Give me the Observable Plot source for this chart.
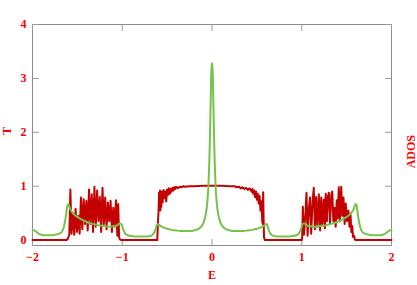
<!DOCTYPE html>
<html>
<head>
<meta charset="utf-8">
<script src="https://cdn.jsdelivr.net/npm/d3@7"></script>
<script src="https://cdn.jsdelivr.net/npm/@observablehq/plot@0.6"></script>
<style>
  html, body { margin: 0; padding: 0; background: #fff; }
</style>
</head>
<body>
<div id="chart"></div>
<script>
// Transmission T(E) (dark red)
const redE = [
  -2, -1.62, -1.605, -1.59, -1.578, -1.565, -1.55, -1.535, -1.52, -1.505, -1.49, -1.475, -1.46,
  -1.445, -1.43, -1.415, -1.40, -1.385, -1.37, -1.355, -1.34, -1.325, -1.31, -1.295, -1.28,
  -1.265, -1.25, -1.235, -1.22, -1.205, -1.19, -1.175, -1.16, -1.145, -1.13, -1.115, -1.10,
  -1.085, -1.07, -1.055, -1.045, -1.035, -1.025, -1.01,
  -0.61, -0.60, -0.595, -0.59, -0.585, -0.58, -0.575, -0.57, -0.565, -0.56, -0.55, -0.54, -0.53,
  -0.52, -0.51, -0.50, -0.49, -0.48, -0.47, -0.46, -0.45, -0.44, -0.43, -0.42, -0.41, -0.40,
  -0.38, -0.36, -0.34, -0.32, -0.30, -0.25, -0.20, -0.10, 0, 0.10, 0.20, 0.25, 0.28, 0.30, 0.32,
  0.34, 0.36, 0.38, 0.40, 0.42, 0.44, 0.45, 0.46, 0.47, 0.48, 0.49, 0.50, 0.51, 0.52, 0.53, 0.54,
  0.55, 0.56, 0.565, 0.57, 0.575, 0.58, 0.59,
  1.00, 1.005, 1.012, 1.025, 1.04, 1.053, 1.065, 1.08, 1.092, 1.105, 1.12, 1.134, 1.147, 1.16,
  1.175, 1.19, 1.205, 1.217, 1.23, 1.245, 1.258, 1.267, 1.28, 1.29, 1.302, 1.315, 1.33, 1.34,
  1.352, 1.365, 1.378, 1.39, 1.40, 1.413, 1.425, 1.44, 1.452, 1.465, 1.478, 1.49, 1.505, 1.52,
  1.532, 1.543, 1.553, 1.562, 1.572, 1.582, 1.592, 1.60, 2
];
const redT = [
  0, 0, 0.03, 0.10, 0.94, 0.12, 0.50, 0.10, 0.58, 0.15, 0.45, 0.12, 0.79,
  0.20, 0.76, 0.30, 0.73, 0.18, 0.94, 0.30, 0.85, 0.15, 0.99, 0.25, 0.92,
  0.35, 0.80, 0.15, 0.97, 0.30, 0.79, 0.20, 0.70, 0.35, 0.73, 0.15, 0.60,
  0.25, 0.74, 0.08, 0.67, 0.05, 0.01, 0,
  0, 0.40, 0.55, 0.88, 0.60, 0.92, 0.55, 0.85, 0.62, 0.90, 0.70, 0.93, 0.78,
  0.90, 0.72, 0.94, 0.84, 0.96, 0.86, 0.95, 0.90, 0.97, 0.92, 0.98, 0.95, 0.99,
  0.96, 0.99, 0.98, 1.0, 0.99, 1.0, 1.0, 1.01, 1.01, 1.01, 1.0, 1.0, 0.98, 0.99, 0.96,
  0.98, 0.95, 0.97, 0.93, 0.96, 0.90, 0.95, 0.86, 0.92, 0.80, 0.90, 0.75, 0.86, 0.68, 0.82, 0.55,
  0.72, 0.35, 0.30, 0.89, 0.40, 0.05, 0,
  0, 0.05, 0.62, 0.10, 0.45, 0.88, 0.08, 0.60, 0.79, 0.12, 0.70, 0.97, 0.20, 0.80,
  0.25, 0.85, 0.18, 0.79, 0.30, 0.75, 0.22, 0.86, 0.35, 0.80, 0.88, 0.30, 0.85, 0.90,
  0.35, 0.60, 0.25, 0.74, 0.40, 0.98, 0.35, 0.99, 0.45, 0.79, 0.30, 0.68, 0.35, 0.55,
  0.25, 0.49, 0.15, 0.26, 0.06, 0.08, 0.01, 0, 0
];

// ADOS(E) (light green)
const greenE = [
  -2, -1.97, -1.94, -1.9, -1.85, -1.8, -1.75, -1.7, -1.67, -1.65, -1.63, -1.61, -1.60, -1.58,
  -1.55, -1.5, -1.45, -1.4, -1.35, -1.3, -1.25, -1.2, -1.15, -1.1, -1.06, -1.03, -1.01, -0.99,
  -0.97, -0.94, -0.9, -0.85, -0.8, -0.75, -0.7, -0.67, -0.64, -0.62, -0.61, -0.58, -0.55, -0.5,
  -0.45, -0.4, -0.35, -0.3, -0.25, -0.2, -0.16, -0.12, -0.1, -0.08, -0.06, -0.05, -0.04, -0.03,
  -0.025, -0.02, -0.015, -0.01, -0.005, 0,
  0.005, 0.01, 0.015, 0.02, 0.025, 0.03, 0.04, 0.05, 0.06, 0.08, 0.1, 0.12, 0.16, 0.2, 0.25,
  0.3, 0.35, 0.4, 0.45, 0.5, 0.55, 0.58, 0.61, 0.62, 0.64, 0.67, 0.7, 0.75, 0.8, 0.85, 0.9,
  0.94, 0.97, 0.99, 1.01, 1.03, 1.06, 1.1, 1.15, 1.2, 1.25, 1.3, 1.35, 1.4, 1.45, 1.5, 1.55,
  1.58, 1.60, 1.61, 1.63, 1.65, 1.67, 1.7, 1.75, 1.8, 1.85, 1.9, 1.94, 1.97, 2
];
const greenA = [
  0.19, 0.17, 0.13, 0.10, 0.09, 0.09, 0.10, 0.12, 0.16, 0.25, 0.42, 0.65, 0.67, 0.58,
  0.50, 0.43, 0.38, 0.34, 0.31, 0.29, 0.27, 0.26, 0.25, 0.255, 0.27, 0.31, 0.30, 0.20,
  0.13, 0.09, 0.075, 0.068, 0.065, 0.065, 0.07, 0.09, 0.15, 0.25, 0.30, 0.27, 0.24, 0.21,
  0.19, 0.18, 0.17, 0.17, 0.17, 0.18, 0.20, 0.25, 0.30, 0.40, 0.58, 0.75, 1.0, 1.45,
  1.75, 2.15, 2.55, 2.95, 3.2, 3.28,
  3.2, 2.95, 2.55, 2.15, 1.75, 1.45, 1.0, 0.75, 0.58, 0.40, 0.30, 0.25, 0.20, 0.18, 0.17,
  0.17, 0.17, 0.18, 0.19, 0.21, 0.24, 0.27, 0.30, 0.25, 0.15, 0.09, 0.07, 0.065, 0.065, 0.068, 0.075,
  0.09, 0.13, 0.20, 0.30, 0.31, 0.27, 0.255, 0.25, 0.26, 0.27, 0.29, 0.31, 0.34, 0.38, 0.43, 0.50,
  0.58, 0.67, 0.65, 0.42, 0.25, 0.16, 0.12, 0.10, 0.09, 0.09, 0.10, 0.13, 0.17, 0.19
];

const xTicks = [-2, -1, 0, 1, 2];
const yTicks = [0, 1, 2, 3, 4];
const xLabel = "E";
const yLabelLeft = "T";
const yLabelRight = "ADOS";

const redData = redE.map((e, i) => ({E: e, v: redT[i]}));
const greenData = greenE.map((e, i) => ({E: e, v: greenA[i]}));

const textRed = "#ff0000";
const tickGray = "#999999";
const tickShape = {draw(context, l) { context.moveTo(0, 0); context.lineTo(0, -l); }};
const tickOpts = {length: 6, anchor: "start", shape: tickShape, stroke: tickGray, strokeWidth: 1};

const chart = Plot.plot({
  width: 417,
  height: 285,
  marginLeft: 32,
  marginRight: 26,
  marginTop: 24,
  marginBottom: 40,
  style: {fontFamily: "'Liberation Serif', 'DejaVu Serif', serif", fontWeight: "bold", fontSize: "12px", background: "#fff"},
  x: {domain: [-2, 2]},
  y: {domain: [-0.1, 4]},
  marks: [
    Plot.frame({stroke: "#8c8c8c"}),
    // inward tick marks on all four sides
    Plot.vector(xTicks, {x: d => d, frameAnchor: "bottom", rotate: 0, ...tickOpts}),
    Plot.vector(xTicks, {x: d => d, frameAnchor: "top", rotate: 180, ...tickOpts}),
    Plot.vector(yTicks, {y: d => d, frameAnchor: "left", rotate: 90, ...tickOpts}),
    Plot.vector(yTicks, {y: d => d, frameAnchor: "right", rotate: -90, ...tickOpts}),
    // tick labels
    Plot.axisX(xTicks, {anchor: "bottom", tickSize: 0, tickPadding: 7, color: textRed, label: null}),
    Plot.axisY(yTicks, {anchor: "left", tickSize: 0, tickPadding: 6, tickFormat: d => String(d), color: textRed, label: null}),
    // data
    Plot.line(redData, {x: "E", y: "v", stroke: "#c40000", strokeWidth: 2}),
    Plot.line(greenData, {x: "E", y: "v", stroke: "#76c24a", strokeWidth: 2, curve: "monotone-x"}),
    // axis titles
    Plot.text([yLabelLeft], {frameAnchor: "left", dx: -25, rotate: -90, text: d => d, fill: textRed, fontSize: 12, fontWeight: "bold"}),
    Plot.text([yLabelRight], {frameAnchor: "right", dx: 20, rotate: -90, text: d => d, fill: textRed, fontSize: 12, fontWeight: "bold"}),
    Plot.text([xLabel], {frameAnchor: "bottom", dy: 33, text: d => d, fill: textRed, fontSize: 12, fontWeight: "bold"})
  ]
});
document.getElementById("chart").appendChild(chart);
</script>
</body>
</html>
